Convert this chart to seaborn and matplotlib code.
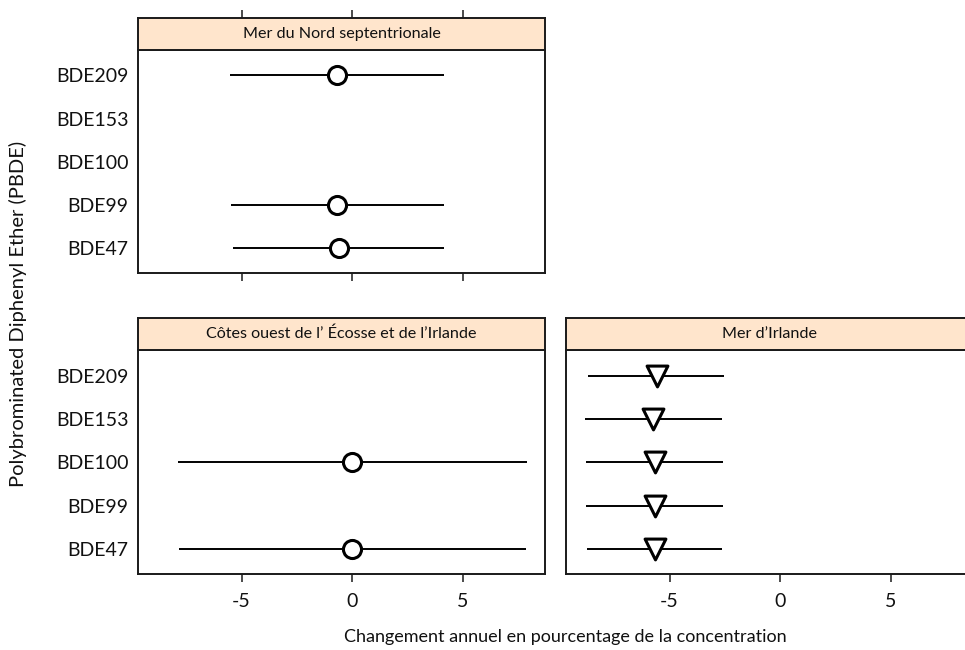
import numpy as np
import pandas as pd
import seaborn as sns
import matplotlib.pyplot as plt

# ---- data ----
categories = ["BDE47", "BDE99", "BDE100", "BDE153", "BDE209"]
x_ticks = [-5, 0, 5]

nord_est = [-0.61, -0.67, np.nan, np.nan, -0.67]
nord_lo = [-5.38, -5.48, np.nan, np.nan, -5.52]
nord_hi = [4.15, 4.15, np.nan, np.nan, 4.15]

ecosse_est = [0.0, np.nan, 0.0, np.nan, np.nan]
ecosse_lo = [-7.81, np.nan, -7.86, np.nan, np.nan]
ecosse_hi = [7.84, np.nan, 7.89, np.nan, np.nan]

irlande_est = [-5.66, -5.66, -5.66, -5.73, -5.58]
irlande_lo = [-8.74, -8.78, -8.78, -8.82, -8.67]
irlande_hi = [-2.62, -2.57, -2.57, -2.62, -2.53]

titles = ["Mer du Nord septentrionale",
          "Côtes ouest de l’ Écosse et de l’Irlande",
          "Mer d’Irlande"]

# ---- style ----
sns.set_theme(style="white")
plt.rcParams['font.family'] = ['Lato', 'DejaVu Sans']

W, H = 965, 650
fig = plt.figure(figsize=(W / 100, H / 100), dpi=100)


def box(x0, y0, x1, y1):
    return [x0 / W, 1 - y1 / H, (x1 - x0) / W, (y1 - y0) / H]


XLIM = (-9.68, 8.72)
YLIM = (-0.57, 4.59)
STRIP_H = 32
FRAME = '#1a1a1a'

panels = [
    # title, est, lo, hi, marker, plot box, show y labels, show x labels, strip top ticks
    (titles[0], nord_est, nord_lo, nord_hi, 'o', (138, 50, 545, 273), True, False, True),
    (titles[1], ecosse_est, ecosse_lo, ecosse_hi, 'o', (138, 350, 545, 574), True, True, False),
    (titles[2], irlande_est, irlande_lo, irlande_hi, 'v', (566, 350, 973, 574), False, True, False),
]

for title, est, lo, hi, mk, (x0, y0, x1, y1), show_y, show_x, top_ticks in panels:
    ax = fig.add_axes(box(x0, y0, x1, y1))
    df = pd.DataFrame({"cat": categories, "pos": np.arange(len(categories)),
                       "est": est, "lo": lo, "hi": hi}).dropna()
    ax.hlines(df["pos"], df["lo"], df["hi"], color='black', lw=1.4, zorder=2)
    if mk == 'o':
        size = 13 ** 2
    else:
        size = 15 ** 2
    sns.scatterplot(data=df, x="est", y="pos", marker=mk, s=size,
                    color='white', edgecolor='black', linewidth=2.2,
                    ax=ax, zorder=3, legend=False)
    ax.set_xlim(*XLIM)
    ax.set_ylim(*YLIM)
    ax.set_xlabel("")
    ax.set_ylabel("")
    ax.set_yticks(np.arange(len(categories)))
    if show_y:
        ax.set_yticklabels(categories, fontsize=14, color='#111111')
    else:
        ax.set_yticklabels([])
    ax.tick_params(axis='y', length=0, pad=7, left=False)
    ax.set_xticks(x_ticks)
    if show_x:
        ax.set_xticklabels([str(t) for t in x_ticks], fontsize=14, color='#111111')
    else:
        ax.set_xticklabels([])
    ax.tick_params(axis='x', bottom=True, direction='out', length=6, width=1.1,
                   color=FRAME, pad=8)
    for sp in ax.spines.values():
        sp.set_color(FRAME)
        sp.set_linewidth(1.4)
        sp.set_visible(True)

    st = fig.add_axes(box(x0, y0 - STRIP_H, x1, y0))
    st.set_facecolor('#FFE5CC')
    st.set_xlim(*XLIM)
    st.set_ylim(0, 1)
    st.set_yticks([])
    if top_ticks:
        st.xaxis.tick_top()
        st.set_xticks(x_ticks)
        st.set_xticklabels([])
        st.tick_params(axis='x', top=True, bottom=False, direction='out',
                       length=6, width=1.1, color=FRAME)
    else:
        st.set_xticks([])
    for sp in st.spines.values():
        sp.set_color(FRAME)
        sp.set_linewidth(1.4)
        sp.set_visible(True)
    st.text((545 - 138) / 2 / (x1 - x0), 0.5, title, transform=st.transAxes,
            ha='center', va='center', fontsize=11.6, color='#111111')

fig.text(565 / W, 1 - 637 / H, "Changement annuel en pourcentage de la concentration",
         ha='center', va='center', fontsize=13, color='#111111')
fig.text(18 / W, 1 - 314 / H, "Polybrominated Diphenyl Ether (PBDE)",
         ha='center', va='center', rotation=90, fontsize=14.5, color='#111111')

fig.savefig("out.png", dpi=100)
